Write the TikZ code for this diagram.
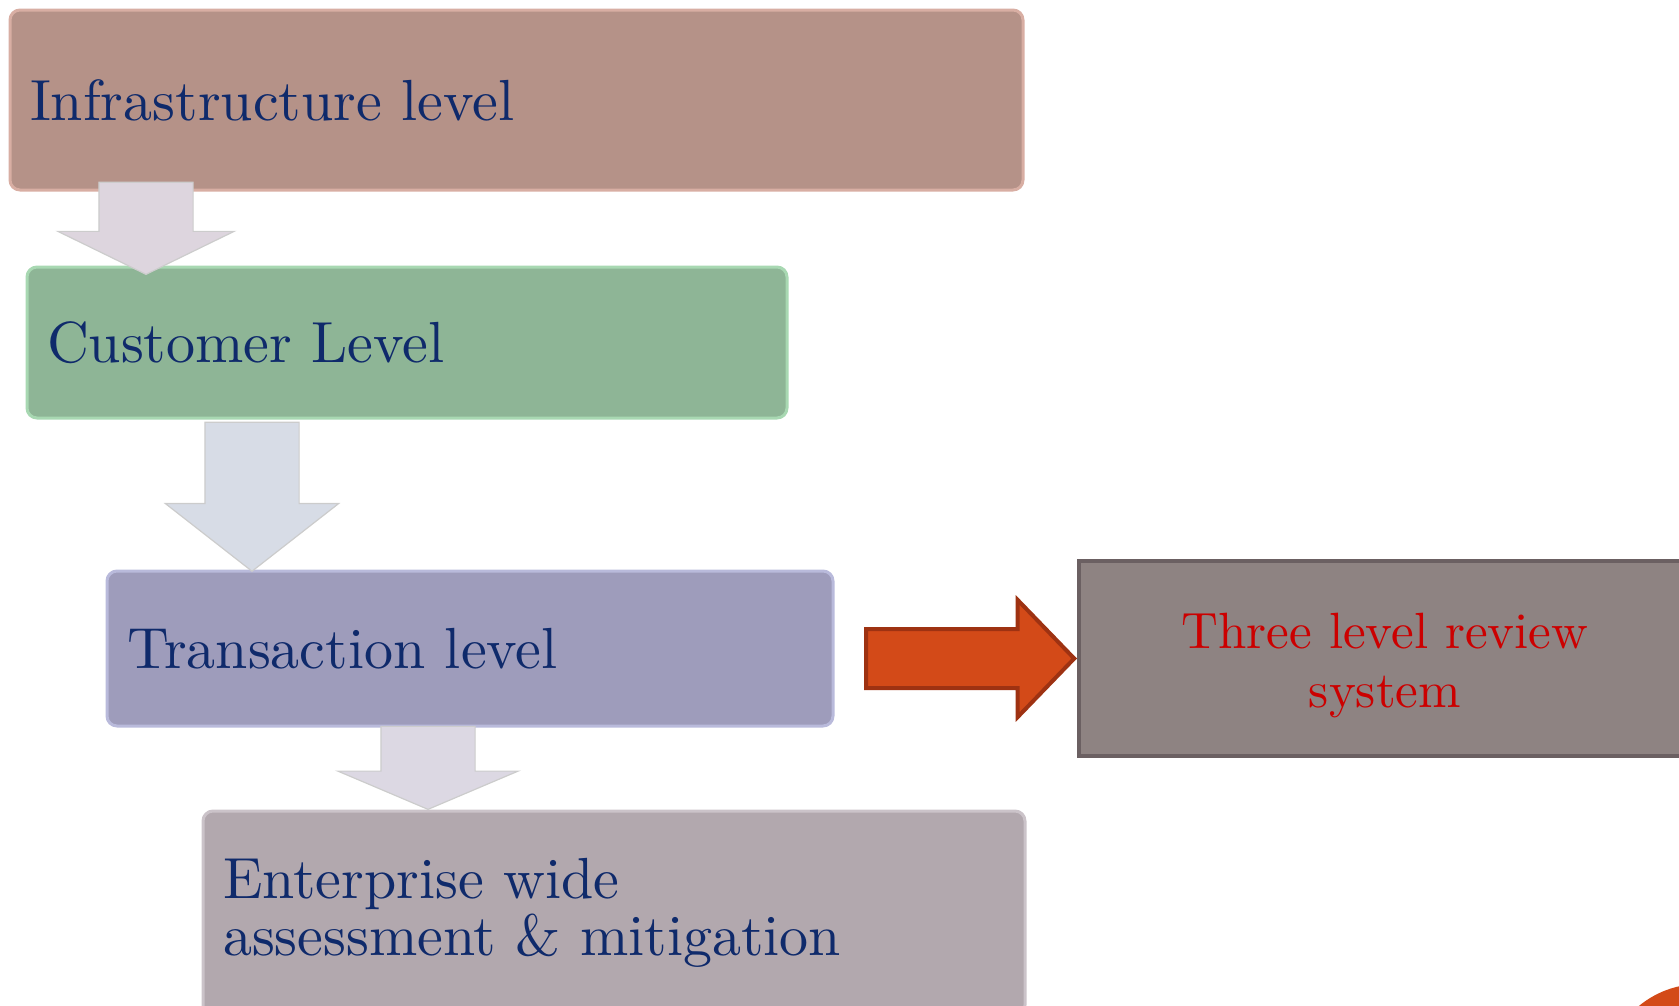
\documentclass[tikz,border=0pt]{standalone}
\usepackage{fontspec}
\setmainfont{lmroman10-regular.otf}
\usepackage{tikz}
\usetikzlibrary{shapes.arrows}

\definecolor{navytext}{HTML}{0F2A6B}
\definecolor{redtext}{HTML}{CC0000}
\definecolor{infrafill}{HTML}{B59288}
\definecolor{infraline}{HTML}{D8AEA3}
\definecolor{custfill}{HTML}{8EB596}
\definecolor{custline}{HTML}{A8D8B2}
\definecolor{transfill}{HTML}{9E9CBB}
\definecolor{transline}{HTML}{B9BADB}
\definecolor{entfill}{HTML}{B2A8AE}
\definecolor{entline}{HTML}{CBC3C9}
\definecolor{reviewfill}{HTML}{8E8382}
\definecolor{reviewline}{HTML}{6B6062}
\definecolor{orangefill}{HTML}{D34A18}
\definecolor{orangeline}{HTML}{9E3212}
\definecolor{downfillA}{HTML}{DDD5DE}
\definecolor{downfillB}{HTML}{D7DCE6}
\definecolor{downfillC}{HTML}{DCD8E3}

\tikzset{
  levelbox/.style={rounded corners=10pt, line width=3pt, inner xsep=20pt, inner ysep=0pt,
    align=left, text=navytext, font=\fontsize{58}{57}\selectfont},
  downarrow/.style={single arrow, shape border rotate=270, inner xsep=46.5pt, inner ysep=0pt,
    draw=gray!40, line width=1.2pt},
}

\begin{document}
\begin{tikzpicture}[x=1pt, y=-1pt]
    \useasboundingbox (0,0) rectangle (1679,1005);

    % Levels
    \node[levelbox, fill=infrafill, draw=infraline, text width=973pt, minimum height=180pt]
        (infra) at (516.5,100) {Infrastructure level};
    \node[levelbox, fill=custfill, draw=custline, text width=720pt, minimum height=151pt]
        (cust) at (407,342.5) {Customer Level};
    \node[levelbox, fill=transfill, draw=transline, text width=686pt, minimum height=155pt]
        (trans) at (470,648.5) {Transaction level};
    \node[levelbox, fill=entfill, draw=entline, text width=782pt, minimum height=204pt]
        (ent) at (614,913) {Enterprise wide\\assessment \& mitigation};

    % Review box
    \node[fill=reviewfill, draw=reviewline, line width=4pt, minimum width=612pt, minimum height=195pt,
        align=center, text=redtext, font=\fontsize{51}{59}\selectfont]
        (review) at (1385,658.5) {\rule{0pt}{50pt}Three level review\\system};

    % Block arrows between levels
    \node[downarrow, fill=downfillA, minimum height=92pt, minimum width=176pt,
        single arrow head extend=41pt, single arrow tip angle=128, anchor=tip]
        (down1) at (146,275) {};
    \node[downarrow, fill=downfillB, minimum height=149pt, minimum width=172pt,
        single arrow head extend=39.5pt, single arrow tip angle=104, anchor=tip]
        (down2) at (252,572) {};
    \node[downarrow, fill=downfillC, minimum height=83pt, minimum width=179pt,
        single arrow head extend=43pt, single arrow tip angle=134, anchor=tip]
        (down3) at (428,810) {};

    % Arrow to review
    \node[single arrow, inner xsep=0pt, inner ysep=27.5pt, fill=orangefill, draw=orangeline, line width=4pt,
        minimum height=208pt, minimum width=113pt, single arrow head extend=29pt,
        single arrow tip angle=92, anchor=tip]
        (toreview) at (review.west) {};

    % Corner mark
    \fill[orangefill] (1700,1080) circle[radius=96pt];
\end{tikzpicture}
\end{document}
